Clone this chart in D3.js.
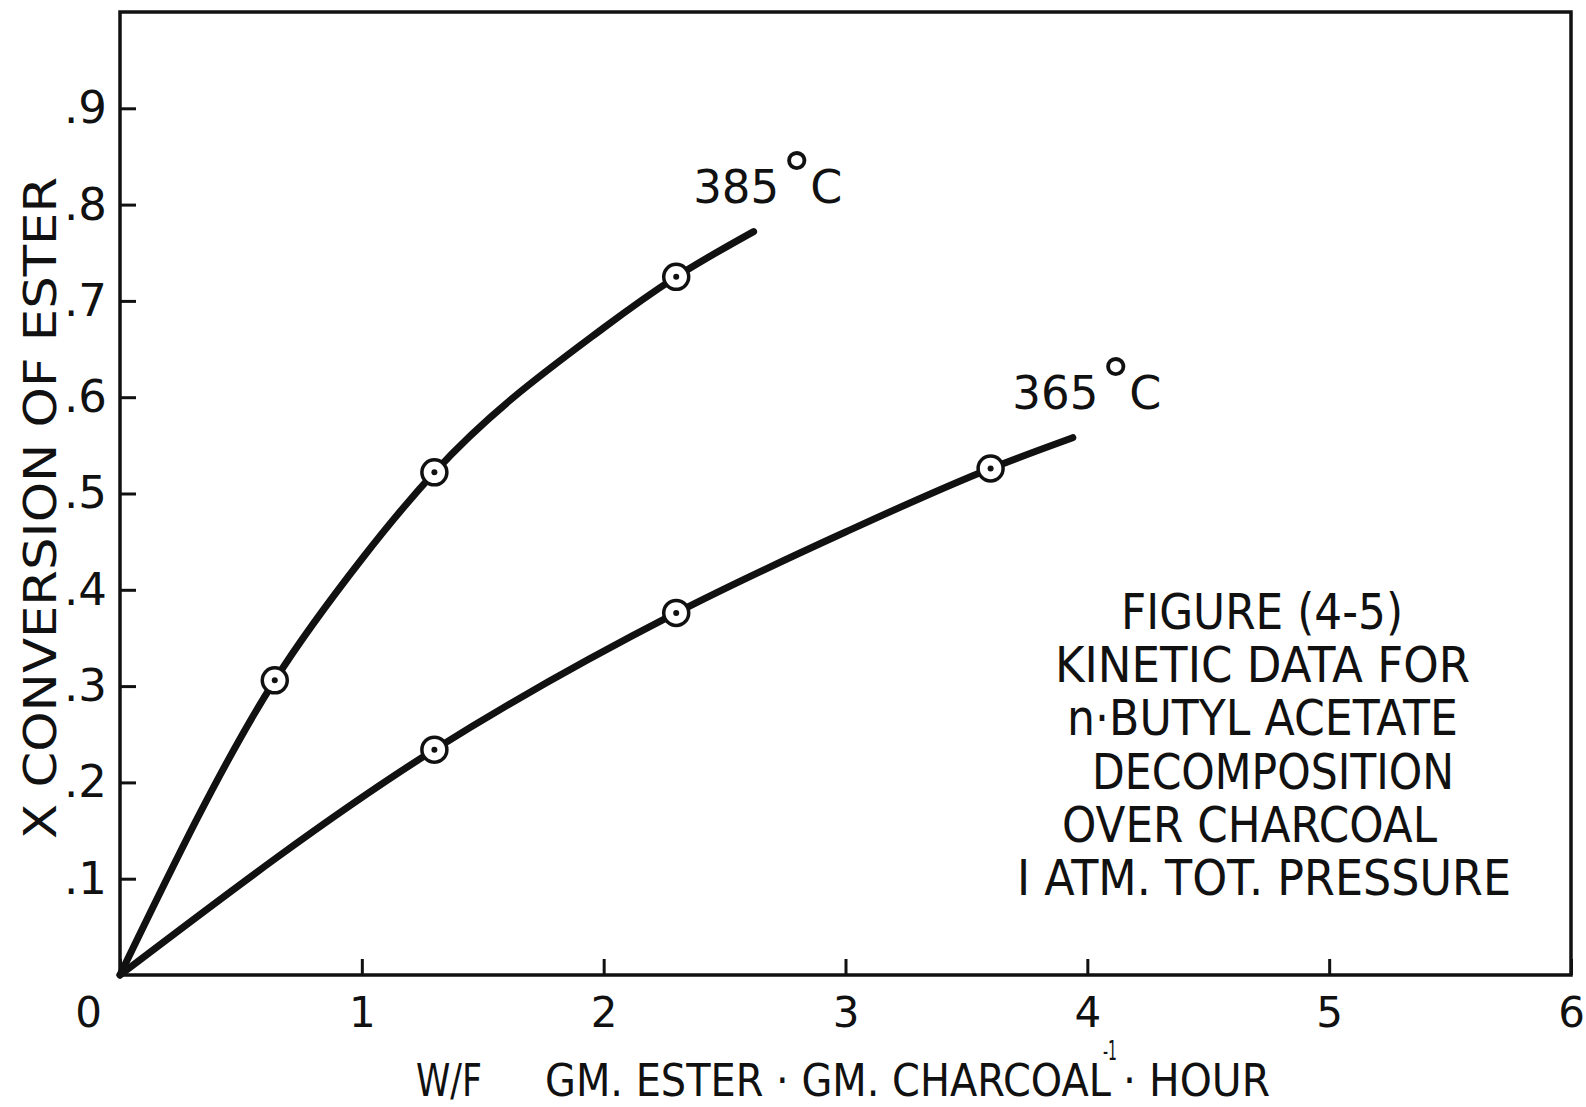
<!DOCTYPE html>
<html>
<head>
<meta charset="utf-8">
<script src="https://cdn.jsdelivr.net/npm/d3@7/dist/d3.min.js"></script>
<style>
    html, body { margin: 0; padding: 0; background: #fff; }
    svg { display: block; }
    text { font-family: "DejaVu Sans", sans-serif; fill: #111; }
</style>
</head>
<body>
<div id="chart"></div>
<script>
// Data (W/F vs conversion)
const xTickValues = [0, 1, 2, 3, 4, 5, 6];
const yTickValues = [0.1, 0.2, 0.3, 0.4, 0.5, 0.6, 0.7, 0.8, 0.9];

// 385 C curve and its measured points
const curve385 = [[0, 0], [0.64, 0.306], [1.0, 0.432], [1.3, 0.522], [2.0, 0.672], [2.3, 0.725], [2.62, 0.772]];
const points385 = [[0.64, 0.306], [1.3, 0.522], [2.3, 0.725]];

// 365 C curve and its measured points
const curve365 = [[0, 0], [1.3, 0.234], [2.3, 0.376], [3.0, 0.46], [3.6, 0.526], [3.94, 0.558]];
const points365 = [[1.3, 0.234], [2.3, 0.376], [3.6, 0.526]];

const seriesLabels = [
    { text: '385', x: 2.37, y: 0.802 },
    { text: '365', x: 3.69, y: 0.588 }
];

const noteLines = [
    'FIGURE (4-5)',
    'KINETIC DATA FOR',
    'n·BUTYL ACETATE',
    'DECOMPOSITION',
    'OVER CHARCOAL',
    'I ATM. TOT. PRESSURE'
];

const W = 1586, H = 1107;
const plotLeft = 120, plotRight = 1571, plotTop = 12, plotBottom = 975;

const svg = d3.select('#chart').append('svg')
    .attr('width', W)
    .attr('height', H);

const x = d3.scaleLinear().domain([0, 6]).range([plotLeft, plotRight]);
const y = d3.scaleLinear().domain([0, 1]).range([plotBottom, plotTop]);

// frame
svg.append('rect')
    .attr('x', plotLeft).attr('y', plotTop)
    .attr('width', plotRight - plotLeft).attr('height', plotBottom - plotTop)
    .attr('fill', 'none')
    .attr('stroke', '#111')
    .attr('stroke-width', 3.5);

// y axis (ticks point inward)
const yAxis = svg.append('g')
    .attr('transform', 'translate(' + plotLeft + ',0)')
    .call(d3.axisLeft(y)
        .tickValues(yTickValues)
        .tickSize(-16)
        .tickPadding(13)
        .tickFormat(d => d3.format('.1f')(d).replace(/^0/, '')));
yAxis.select('.domain').remove();
yAxis.selectAll('line').attr('stroke', '#111').attr('stroke-width', 3);
yAxis.selectAll('text').attr('font-size', 45).attr('font-family', '"DejaVu Sans", sans-serif').attr('fill', '#111');

// x axis
const xAxis = svg.append('g')
    .attr('transform', 'translate(0,' + plotBottom + ')')
    .call(d3.axisBottom(x)
        .tickValues(xTickValues)
        .tickSize(-16)
        .tickPadding(22)
        .tickFormat(d3.format('d')));
xAxis.select('.domain').remove();
xAxis.selectAll('line').attr('stroke', '#111').attr('stroke-width', 3);
xAxis.selectAll('text').attr('font-size', 42).attr('font-family', '"DejaVu Sans", sans-serif').attr('fill', '#111');
// the corner "0" sits left of the origin
xAxis.selectAll('.tick').filter(d => d === 0).select('text').attr('x', -32);

// curves
const line = d3.line()
    .x(d => x(d[0]))
    .y(d => y(d[1]))
    .curve(d3.curveMonotoneX);

[curve385, curve365].forEach(c => {
    svg.append('path')
        .datum(c)
        .attr('d', line)
        .attr('fill', 'none')
        .attr('stroke', '#111')
        .attr('stroke-width', 7)
        .attr('stroke-linecap', 'round');
});

// markers: open circle with centre dot
[points385, points365].forEach(pts => {
    const g = svg.append('g').selectAll('g')
        .data(pts)
        .enter()
        .append('g')
        .attr('transform', d => 'translate(' + x(d[0]) + ',' + y(d[1]) + ')');
    g.append('circle')
        .attr('r', 12.5)
        .attr('fill', '#fff')
        .attr('stroke', '#111')
        .attr('stroke-width', 3.5);
    g.append('circle')
        .attr('r', 3)
        .attr('fill', '#111');
});

// series labels
seriesLabels.forEach(s => {
    const t = svg.append('text')
        .attr('x', x(s.x))
        .attr('y', y(s.y))
        .attr('font-size', 46);
    t.append('tspan').text(s.text)
        .attr('textLength', 86)
        .attr('lengthAdjust', 'spacingAndGlyphs');
    t.append('tspan').text('°').attr('dx', 2).attr('dy', -6).attr('font-size', 62);
    t.append('tspan').text('C').attr('dx', -2).attr('dy', 6);
});

// axis titles
svg.append('text')
    .attr('transform', 'translate(56,508) rotate(-90)')
    .attr('text-anchor', 'middle')
    .attr('font-size', 44)
    .attr('textLength', 662)
    .attr('lengthAdjust', 'spacingAndGlyphs')
    .text('X  CONVERSION  OF  ESTER');

const xTitleY = 1096;
const xTitle = svg.append('text')
    .attr('y', xTitleY)
    .attr('font-size', 44);
xTitle.append('tspan')
    .attr('x', 416)
    .attr('textLength', 66)
    .attr('lengthAdjust', 'spacingAndGlyphs')
    .text('W/F');
xTitle.append('tspan')
    .attr('x', 545)
    .attr('textLength', 566)
    .attr('lengthAdjust', 'spacingAndGlyphs')
    .text('GM. ESTER · GM. CHARCOAL');
xTitle.append('tspan')
    .attr('x', 1103).attr('y', 1060)
    .attr('font-size', 26)
    .attr('textLength', 14)
    .attr('lengthAdjust', 'spacingAndGlyphs')
    .text('-1');
xTitle.append('tspan')
    .attr('x', 1123).attr('y', xTitleY)
    .attr('textLength', 147)
    .attr('lengthAdjust', 'spacingAndGlyphs')
    .text('· HOUR');

// figure caption block
const noteX = [1121, 1055, 1067, 1092, 1062, 1017];
const noteW = [282, 415, 391, 362, 375, 494];
noteLines.forEach((txt, i) => {
    svg.append('text')
        .attr('x', noteX[i])
        .attr('y', 629 + i * 53.2)
        .attr('font-size', 50)
        .attr('textLength', noteW[i])
        .attr('lengthAdjust', 'spacingAndGlyphs')
        .text(txt);
});
</script>
</body>
</html>
